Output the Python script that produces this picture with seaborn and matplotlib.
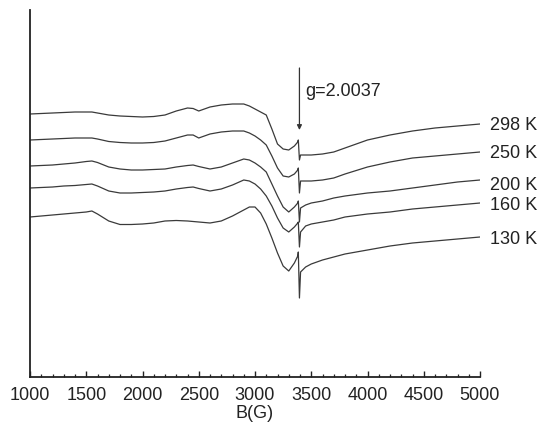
import numpy as np
import pandas as pd
import matplotlib
matplotlib.use("Agg")
import matplotlib.pyplot as plt
import seaborn as sns
from matplotlib.ticker import MultipleLocator

# Magnetic field (G)
field = [1000, 1100, 1200, 1300, 1400, 1500, 1550, 1600, 1700, 1800, 1900, 2000,
         2100, 2200, 2300, 2400, 2450, 2500, 2600, 2700, 2800, 2900, 2950, 3000,
         3050, 3100, 3150, 3200, 3250, 3300, 3350, 3380, 3385, 3395, 3405, 3450,
         3500, 3600, 3700, 3800, 4000, 4200, 4400, 4600, 4800, 5000]

# EPR signal (arbitrary units, offset traces)
sig_298 = [286, 286.5, 287, 287.5, 288, 288, 288, 287, 285, 284, 283.5, 283, 283.5, 285,
           289, 292, 291.5, 289, 293, 295, 296, 296, 294, 291, 288, 285, 271, 256, 251, 250,
           254, 258, 260, 240, 245, 245, 245, 246, 248, 252, 260, 265, 269, 272, 274, 276]
sig_250 = [260, 260.5, 261, 261.5, 262, 262, 262, 261, 258.5, 257.5, 257, 257, 257.5, 259,
           262, 265, 265, 262, 266, 268, 269, 269, 267, 264, 260, 255, 244, 232, 224, 223,
           226, 230, 232, 207, 219, 219, 219, 220, 222, 226, 233, 238, 242, 244, 246, 248]
sig_200 = [234, 234.5, 235, 236, 237, 238.5, 239, 237.5, 233, 231, 230, 230, 230.5, 231,
           233, 234.5, 235, 233.5, 231, 233, 237, 241, 240, 237, 233, 228, 216, 204, 193, 188,
           193, 197, 199, 178, 192, 195, 197, 199, 202, 204, 207, 209, 212, 215, 218, 220]
sig_160 = [212, 212.5, 213, 214, 214.5, 215.5, 216, 214, 209, 207, 207, 207.5, 208, 209,
           211, 212.5, 213, 211.5, 209, 211, 215, 220, 219, 216, 211, 204, 194, 182, 172, 168,
           173, 177, 178, 153, 168, 174, 176, 178, 180, 183, 186, 188, 191, 193, 195, 197]
sig_130 = [183, 184, 185, 186, 187, 188, 189, 186, 179, 175.5, 175.5, 176, 177, 179,
           179.5, 179, 178.5, 178, 177, 179, 184, 190, 193, 193, 187, 176, 162, 147, 134, 129,
           137, 144, 148, 102, 128, 133, 136, 140, 143, 146, 150, 154, 157, 159, 161, 163]

temps = ["298 K", "250 K", "200 K", "160 K", "130 K"]
label_y = [275, 247, 215, 194, 161]
g_label = "g=2.0037"
g_field = 3395

series = [sig_298, sig_250, sig_200, sig_160, sig_130]
df = pd.concat([pd.DataFrame({"B": field, "signal": s, "T": t})
                for s, t in zip(series, temps)], ignore_index=True)

sns.set_style("white")
plt.rcParams["font.family"] = ["Liberation Sans", "DejaVu Sans"]

fig = plt.figure(figsize=(5.41, 4.25), dpi=100)
ax = fig.add_axes([30 / 541, 48 / 425, 450 / 541, 367 / 425])

sns.lineplot(data=df, x="B", y="signal", hue="T", units="T", estimator=None,
             palette=["#3a3a3a"] * 5, linewidth=0.9, legend=False, ax=ax)

for t, y in zip(temps, label_y):
    ax.text(5090, y, t, ha="left", va="center", fontsize=13, color="#222222",
            clip_on=False)

ax.annotate("", xy=(g_field, 270), xytext=(g_field, 332),
            arrowprops=dict(arrowstyle="-|>", color="#333333", lw=0.9,
                            mutation_scale=7, shrinkA=0, shrinkB=0))
ax.text(3450, 309, g_label, ha="left", va="center", fontsize=13, color="#222222")

ax.set_xlim(1000, 5000)
ax.set_ylim(23, 390)
ax.set_yticks([])
ax.set_ylabel("")
ax.set_xlabel("B(G)", fontsize=13, color="#222222", labelpad=1)
ax.xaxis.set_major_locator(MultipleLocator(500))
ax.xaxis.set_minor_locator(MultipleLocator(100))
ax.tick_params(axis="x", which="major", direction="in", length=4, width=1,
               labelsize=13, pad=7, colors="#222222", bottom=True)
ax.tick_params(axis="x", which="minor", direction="in", length=2.5, width=0.9,
               bottom=True)
for side in ["top", "right"]:
    ax.spines[side].set_visible(False)
for side in ["left", "bottom"]:
    ax.spines[side].set_color("#222222")
    ax.spines[side].set_linewidth(1.3)

fig.savefig("out.png", dpi=100)
